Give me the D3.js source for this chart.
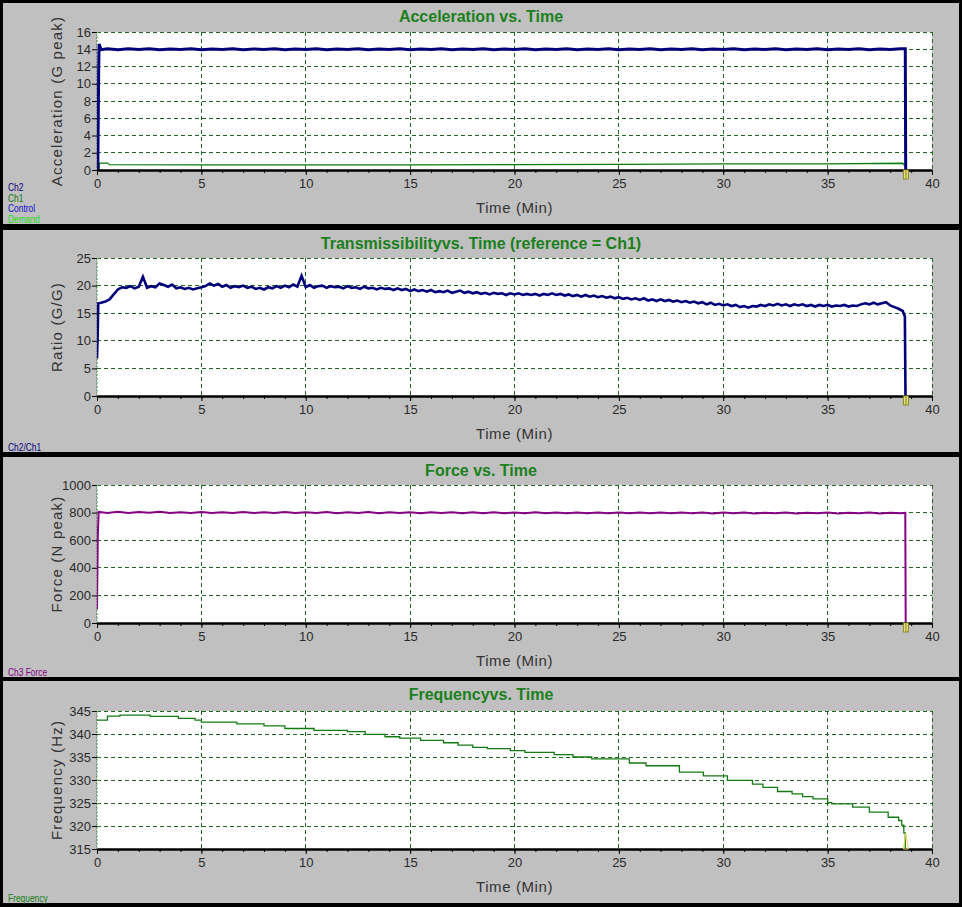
<!DOCTYPE html>
<html><head><meta charset="utf-8">
<script src="https://cdn.jsdelivr.net/npm/d3@7"></script>
<style>
html,body{margin:0;padding:0;background:#000;}
svg{display:block;}
</style></head><body>
<svg id="chart" width="962" height="907"></svg>
<script>
// ---------------- DATA ----------------
const timeTicks = [0, 5, 10, 15, 20, 25, 30, 35, 40];
const timeMinorTicks = d3.range(0, 41, 1);
const accelTicks = [0, 2, 4, 6, 8, 10, 12, 14, 16];
const ratioTicks = [0, 5, 10, 15, 20, 25];
const forceTicks = [0, 200, 400, 600, 800, 1000];
const freqTicks = [315, 320, 325, 330, 335, 340, 345];

const titles = ["Acceleration vs. Time", "Transmissibilityvs. Time (reference = Ch1)", "Force vs. Time", "Frequencyvs. Time"];
const yLabels = ["Acceleration (G peak)", "Ratio (G/G)", "Force (N peak)", "Frequency (Hz)"];
const xLabel = "Time (Min)";
const legendAccel = ["Ch2", "Ch1", "Control", "Demand"];
const legendRatio = ["Ch2/Ch1"];
const legendForce = ["Ch3 Force"];
const legendFreq = ["Frequency"];

// Acceleration Ch2 [time, G]
const accelCh2 = [[0,0],[0.04,0.3],[0.08,11.5],[0.1,14.6],[0.2,13.95],[0.5,14.05],[1,13.95],[1.5,14.05],[2,13.98],[2.5,14.05],[3,13.95],[3.5,14.03],[4,13.97],[4.5,14.05],[5,13.95],[5.5,14.03],[6,13.97],[6.5,14.05],[7,13.95],[7.5,14.03],[8,13.97],[8.5,14.05],[9,13.95],[9.5,14.03],[10,13.97],[10.5,14.05],[11,13.95],[11.5,14.03],[12,13.97],[12.5,14.05],[13,13.95],[13.5,14.03],[14,13.97],[14.5,14.05],[15,13.95],[15.5,14.03],[16,13.97],[16.5,14.05],[17,13.95],[17.5,14.03],[18,13.97],[18.5,14.05],[19,13.95],[19.5,14.03],[20,13.97],[20.5,14.05],[21,13.95],[21.5,14.03],[22,13.97],[22.5,14.05],[23,13.95],[23.5,14.03],[24,13.97],[24.5,14.05],[25,13.95],[25.5,14.03],[26,13.97],[26.5,14.05],[27,13.95],[27.5,14.03],[28,13.97],[28.5,14.05],[29,13.95],[29.5,14.03],[30,13.97],[30.5,14.05],[31,13.95],[31.5,14.03],[32,13.97],[32.5,14.05],[33,13.95],[33.5,14.03],[34,13.97],[34.5,14.05],[35,13.95],[35.5,14.03],[36,13.97],[36.5,14.05],[37,13.95],[37.5,14.03],[38,13.97],[38.5,14.05],[38.72,14.05],[38.74,0]];
// Acceleration Ch1 [time, G]
const accelCh1 = [[0.1,0],[0.12,0.8],[0.5,0.8],[0.6,0.62],[5,0.6],[10,0.6],[15,0.6],[20,0.62],[25,0.65],[30,0.7],[35,0.72],[38.6,0.78],[38.7,0.5]];

// Transmissibility Ch2/Ch1
const ratioStart = [[0,6.8],[0.03,10.5],[0.06,16.8]];
const ratioStep = 0.2; // values below start at t = 0.2
const ratioValues = [
  16.9,17.1,17.5,18.4,19.3,19.7,19.6,19.9,19.5,19.8,
  21.6,19.6,19.9,19.7,20.4,20.1,19.8,20.2,19.5,19.7,
  19.4,19.6,19.3,19.5,19.7,19.9,20.4,20.0,20.3,19.8,
  20.1,19.6,19.9,19.7,20.0,19.6,19.8,19.4,19.6,19.3,
  19.7,19.5,19.9,19.6,20.0,19.7,20.2,19.8,21.8,19.7,
  20.1,19.6,19.9,20.0,19.6,19.9,19.7,19.8,19.5,19.9,
  19.6,19.7,19.4,19.8,19.5,19.6,19.3,19.6,19.4,19.5,
  19.2,19.5,19.2,19.4,19.0,19.3,19.0,19.2,18.9,19.2,
  18.8,19.0,18.8,19.1,18.7,18.9,19.1,18.7,18.9,18.6,
  18.8,18.5,18.7,18.4,18.7,18.5,18.6,18.3,18.6,18.4,
  18.6,18.3,18.5,18.3,18.5,18.2,18.5,18.3,18.6,18.3,
  18.5,18.2,18.4,18.1,18.3,18.0,18.3,18.0,18.2,17.9,
  18.1,17.8,18.0,17.7,17.9,17.6,17.8,17.5,17.7,17.4,
  17.7,17.3,17.5,17.2,17.5,17.2,17.4,17.1,17.3,17.0,
  17.2,16.9,17.1,16.8,17.0,16.6,16.9,16.5,16.7,16.4,
  16.6,16.3,16.5,16.1,16.3,16.0,16.3,16.2,16.5,16.3,
  16.6,16.4,16.7,16.4,16.6,16.3,16.6,16.4,16.6,16.3,
  16.5,16.2,16.5,16.3,16.5,16.2,16.4,16.3,16.5,16.2,
  16.4,16.3,16.6,16.8,16.6,16.9,16.6,16.8,17.0,16.4,
  16.1,15.8,15.4
];
const ratioEnd = [[38.7,14.4],[38.73,0]];

// Force Ch3 [time, N]
const forceData = [[0,100],[0.04,640],[0.08,805],[0.5,798],[1,806],[1.5,797],[2,804],[2.5,799],[3,806],[3.5,797],[4,803],[4.5,798],[5,805],[5.5,797],[6,803],[6.5,798],[7,805],[7.5,797],[8,803],[8.5,798],[9,804],[9.5,797],[10,803],[10.5,798],[11,804],[11.5,796],[12,803],[12.5,797],[13,804],[13.5,796],[14,802],[14.5,797],[15,803],[15.5,796],[16,802],[16.5,797],[17,803],[17.5,796],[18,802],[18.5,796],[19,802],[19.5,796],[20,801],[20.5,796],[21,802],[21.5,795],[22,801],[22.5,796],[23,801],[23.5,795],[24,801],[24.5,796],[25,801],[25.5,795],[26,800],[26.5,795],[27,801],[27.5,795],[28,800],[28.5,795],[29,800],[29.5,794],[30,800],[30.5,795],[31,800],[31.5,794],[32,799],[32.5,795],[33,800],[33.5,794],[34,799],[34.5,795],[35,800],[35.5,794],[36,799],[36.5,795],[37,800],[37.5,794],[38,799],[38.5,796],[38.72,798],[38.74,0]];

// Frequency (step changes) [time, Hz]
const freqData = [[0,343.0],[0.5,343.9],[1.1,344.1],[2.55,343.85],[3.9,343.4],[4.7,343.0],[5.0,342.6],[6.7,342.2],[8.0,341.75],[9.0,341.2],[10.4,340.8],[12.0,340.5],[12.85,339.9],[13.8,339.4],[14.5,339.1],[15.5,338.6],[16.6,338.1],[17.3,337.6],[18.0,337.1],[18.7,336.8],[19.8,336.4],[20.5,336.0],[21.9,335.5],[22.8,335.0],[23.7,334.6],[25.5,333.7],[26.3,333.1],[27.9,331.7],[29.05,330.9],[30.2,329.9],[31.4,329.1],[31.9,328.4],[32.6,327.5],[33.3,327.0],[33.8,326.4],[34.3,325.9],[35.0,325.1],[35.2,324.8],[36.2,324.1],[37.0,323.0],[37.9,321.9],[38.4,321.2],[38.55,320.2],[38.65,318.5],[38.72,314]];
const endTime = 38.75;

// ---------------- LAYOUT / STYLE ----------------
const W = 962, H = 907;
const panelTops = [3, 230, 457, 681];
const panelBottoms = [224, 452, 677, 903];
const plotTops = [32, 258, 485, 711];
const plotH = 138;
const xLeft = 97, xRight = 932;
const gridColor = "#1f6a1f";
const titleColor = "#1b7f1b";
const textColor = "#2a2a2a";

const svg = d3.select("#chart");
svg.append("rect").attr("width", W).attr("height", H).attr("fill", "#000");

const x = d3.scaleLinear().domain([0, 40]).range([xLeft, xRight]);

function panel(i, yDomain, yTicks, series, legend, legendColors, markerInside) {
  const top = plotTops[i], bottom = plotTops[i] + plotH;
  const y = d3.scaleLinear().domain(yDomain).range([bottom, top]);
  const g = svg.append("g");
  g.append("rect").attr("x", 3).attr("y", panelTops[i]).attr("width", 956)
    .attr("height", panelBottoms[i] - panelTops[i]).attr("fill", "#c0c0c0");
  g.append("rect").attr("x", xLeft).attr("y", top).attr("width", xRight - xLeft)
    .attr("height", plotH).attr("fill", "#fff");

  // grid
  g.append("g").selectAll("line").data(yTicks.filter(v => v !== yDomain[0])).join("line")
    .attr("x1", xLeft).attr("x2", xRight).attr("y1", d => y(d)).attr("y2", d => y(d))
    .attr("stroke", gridColor).attr("stroke-width", 1).attr("stroke-dasharray", "4,3")
    .attr("shape-rendering", "crispEdges");
  g.append("g").selectAll("line").data(timeTicks.filter(v => v > 0)).join("line")
    .attr("x1", d => x(d)).attr("x2", d => x(d)).attr("y1", top).attr("y2", bottom)
    .attr("stroke", gridColor).attr("stroke-width", 1).attr("stroke-dasharray", "4,3")
    .attr("shape-rendering", "crispEdges");
  g.append("line").attr("x1", x(0)).attr("x2", x(0)).attr("y1", top).attr("y2", bottom)
    .attr("stroke", "#7fe07f").attr("stroke-width", 1).attr("stroke-dasharray", "2,2")
    .attr("shape-rendering", "crispEdges");

  // data
  const clipId = "clip" + i;
  svg.append("clipPath").attr("id", clipId).append("rect")
    .attr("x", xLeft).attr("y", top - 2).attr("width", xRight - xLeft).attr("height", plotH + 2);
  const dg = g.append("g").attr("clip-path", `url(#${clipId})`);
  series.forEach(s => {
    const line = d3.line().x(d => x(d[0])).y(d => y(d[1])).curve(s.curve || d3.curveLinear);
    dg.append("path").datum(s.data).attr("d", line).attr("fill", "none")
      .attr("stroke", s.color).attr("stroke-width", s.width).attr("stroke-linejoin", "miter");
  });

  // axes
  const xAxis = d3.axisBottom(x).tickValues(timeTicks).tickSize(5).tickSizeOuter(0).tickPadding(4);
  const xMinor = d3.axisBottom(x).tickValues(timeMinorTicks).tickSize(3).tickSizeOuter(0).tickFormat("");
  const gxm = g.append("g").attr("transform", `translate(0,${bottom})`).call(xMinor);
  gxm.select(".domain").remove();
  gxm.selectAll("line").attr("stroke", "#000");
  const gx = g.append("g").attr("transform", `translate(0,${bottom})`).call(xAxis);
  gx.select(".domain").attr("stroke", "#000").attr("stroke-width", 2.5);
  gx.selectAll(".tick line").attr("stroke", "#000");
  gx.selectAll("text").attr("font-family", "Liberation Sans, Arial, sans-serif")
    .attr("font-size", 13).attr("fill", textColor);

  const yAxis = d3.axisLeft(y).tickValues(yTicks).tickFormat(d3.format("d"))
    .tickSize(5).tickSizeOuter(0).tickPadding(1);
  const gy = g.append("g").attr("transform", `translate(${xLeft},0)`).call(yAxis);
  gy.select(".domain").attr("stroke", "#555").attr("stroke-dasharray", "1,2").attr("transform", "translate(-1,0)");
  gy.selectAll(".tick line").attr("stroke", "#000");
  gy.selectAll("text").attr("font-family", "Liberation Sans, Arial, sans-serif")
    .attr("font-size", 13).attr("fill", textColor);

  // end marker
  const mx = x(endTime);
  if (markerInside) {
    g.append("path").attr("d", `M${mx - 2.5},${bottom} L${mx},${bottom - 16} L${mx + 2.5},${bottom} Z`)
      .attr("fill", "none").attr("stroke", "#e8d860").attr("stroke-width", 1);
  } else {
    g.append("rect").attr("x", mx - 2.5).attr("y", bottom).attr("width", 5).attr("height", 9)
      .attr("fill", "#e6e07a").attr("stroke", "#8a8a2a").attr("stroke-width", 1);
    g.append("line").attr("x1", mx).attr("x2", mx).attr("y1", bottom + 1).attr("y2", bottom + 9)
      .attr("stroke", "#8a8a2a").attr("stroke-width", 1);
  }

  // texts
  g.append("text").attr("x", 481).attr("y", panelTops[i] + 19).attr("text-anchor", "middle")
    .attr("font-family", "Liberation Sans, Arial, sans-serif").attr("font-weight", "bold")
    .attr("font-size", 16).attr("fill", titleColor).text(titles[i]);
  g.append("text").attr("x", (xLeft + xRight) / 2).attr("y", bottom + 43).attr("text-anchor", "middle")
    .attr("font-family", "Liberation Sans, Arial, sans-serif").attr("font-size", 15)
    .attr("letter-spacing", 0.6).attr("fill", "#333").text(xLabel);
  g.append("text").attr("transform", `translate(62,${top + plotH / 2}) rotate(-90)`)
    .attr("text-anchor", "middle").attr("font-family", "Liberation Sans, Arial, sans-serif")
    .attr("font-size", 15).attr("letter-spacing", 1.2).attr("fill", "#333").text(yLabels[i]);

  const n = legend.length;
  legend.forEach((t, k) => {
    g.append("text").attr("transform", `translate(8,${panelBottoms[i] - 1.5 - (n - 1 - k) * 10.5}) scale(0.8,1)`)
      .attr("font-family", "Liberation Sans, Arial, sans-serif").attr("font-size", 10.5)
      .attr("fill", legendColors[k]).text(t);
  });
  return g;
}

panel(0, [0, 16], accelTicks, [
  { data: accelCh1, color: "#0a7a0a", width: 1.3 },
  { data: accelCh2, color: "#00007a", width: 3 }
], legendAccel, ["#00007a", "#137a13", "#1010c8", "#22dd22"], false);

const ratioData = ratioStart.concat(ratioValues.map((v, k) => [ratioStep * (k + 1), v]), ratioEnd);
panel(1, [0, 25], ratioTicks, [
  { data: ratioData, color: "#00007a", width: 2.6 }
], legendRatio, ["#00007a"], false);

panel(2, [0, 1000], forceTicks, [
  { data: forceData, color: "#850085", width: 2 }
], legendForce, ["#850085"], false);

panel(3, [315, 345], freqTicks, [
  { data: freqData, color: "#137a13", width: 1.3, curve: d3.curveStepAfter }
], legendFreq, ["#137a13"], true);
</script>
</body></html>
